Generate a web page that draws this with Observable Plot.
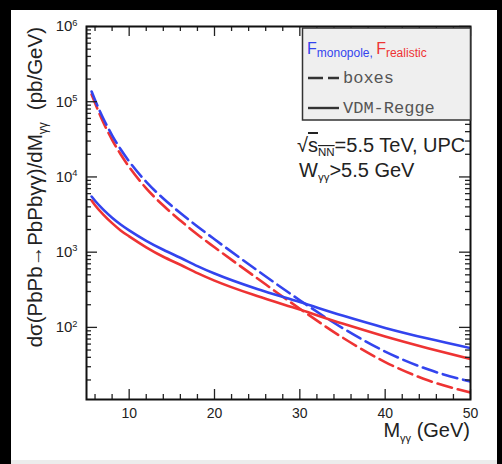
<!DOCTYPE html>
<html><head><meta charset="utf-8">
<script src="https://cdn.jsdelivr.net/npm/d3@7"></script>
<script src="https://cdn.jsdelivr.net/npm/@observablehq/plot@0.6"></script>
<style>
html,body{margin:0;padding:0;background:#000;width:502px;height:464px;overflow:hidden;}
#panel{position:absolute;left:11px;top:10px;width:486px;height:450px;background:#fff;}
#strip{position:absolute;left:11px;top:460px;width:486px;height:4px;background:#ececec;}
#chart{position:absolute;left:0;top:0;}
</style></head><body>
<div id="panel"></div><div id="strip"></div><div id="chart"></div>
<script>
// M_gamma-gamma (GeV)
const mass = [5.6, 6, 7, 8, 9, 10, 12, 14, 16, 18, 20, 25, 30, 35, 40, 45, 50];
// dsigma/dM (pb/GeV)
const boxesMonopole  = [136600, 105340, 58880, 35810, 23320, 16075, 8605, 5161, 3311, 2197, 1484, 574.5, 229.3, 98.0, 47.7, 27.7, 19.05];
const boxesRealistic = [124650, 96100, 52100, 31190, 20010, 13585, 7054, 4166, 2632, 1719, 1162, 449.7, 176.7, 73.3, 34.6, 19.8, 13.6];
const vdmMonopole    = [5488, 4826, 3652, 2876, 2336, 1950, 1418, 1076, 842.4, 653.4, 519.4, 323.1, 217.0, 143.5, 98.5, 71.0, 53.0];
const vdmRealistic   = [4856, 4205, 3133, 2430, 1944, 1622, 1162, 868.6, 679.8, 527.4, 419.1, 260.8, 172.5, 112.3, 75.9, 53.0, 37.9];

const xMajorTicks = [10, 20, 30, 40, 50];
const xMinorTicks = [6, 8, 12, 14, 16, 18, 22, 24, 26, 28, 32, 34, 36, 38, 42, 44, 46, 48];
const yMajorTicks = [1e2, 1e3, 1e4, 1e5, 1e6];
const yMinorTicks = [10, 100, 1e3, 1e4, 1e5].flatMap(d => [2,3,4,5,6,7,8,9].map(k => k * d)).filter(v => v > 11);

const blue = "#3344ee", red = "#ee3333";
const W = 502, H = 464, mL = 86, mR = 32, mT = 26, mB = 65;
const pH = H - mT - mB, pW = W - mL - mR;

const table = (vals) => mass.map((m, i) => ({m, v: vals[i]}));

const tickStyle = {stroke: "#222", strokeWidth: 1.3};
const lineOpts = {x: "m", y: "v", strokeWidth: 2.6, curve: "monotone-x", clip: true};
const plot = Plot.plot({
  width: W, height: H, marginLeft: mL, marginRight: mR, marginTop: mT, marginBottom: mB,
  style: {background: "transparent", fontFamily: "'Liberation Sans', Arial, sans-serif", color: "#222"},
  x: {domain: [5, 50]},
  y: {type: "log", domain: [11, 1e6]},
  marks: [
    Plot.line(table(boxesRealistic), {...lineOpts, stroke: red, strokeDasharray: "15 6"}),
    Plot.line(table(boxesMonopole), {...lineOpts, stroke: blue, strokeDasharray: "15 6"}),
    Plot.line(table(vdmRealistic), {...lineOpts, stroke: red}),
    Plot.line(table(vdmMonopole), {...lineOpts, stroke: blue}),
    // inward ROOT-style ticks
    Plot.tickX(xMajorTicks, {x: d => d, insetTop: pH - 10, ...tickStyle}),
    Plot.tickX(xMajorTicks, {x: d => d, insetBottom: pH - 10, ...tickStyle}),
    Plot.tickX(xMinorTicks, {x: d => d, insetTop: pH - 5, ...tickStyle}),
    Plot.tickX(xMinorTicks, {x: d => d, insetBottom: pH - 5, ...tickStyle}),
    Plot.tickY(yMajorTicks, {y: d => d, insetRight: pW - 11, ...tickStyle}),
    Plot.tickY(yMajorTicks, {y: d => d, insetLeft: pW - 11, ...tickStyle}),
    Plot.tickY(yMinorTicks, {y: d => d, insetRight: pW - 5, ...tickStyle}),
    Plot.tickY(yMinorTicks, {y: d => d, insetLeft: pW - 5, ...tickStyle}),
    Plot.axisX(xMajorTicks, {tickSize: 0, tickPadding: 9, fontSize: 14, tickFormat: d3.format("d"), label: null}),
    Plot.axisY(yMajorTicks, {tickSize: 0, tickPadding: 9, fontSize: 15, tickFormat: d => String(Math.round(Math.log10(d))), label: null}),
    Plot.frame({stroke: "#111", strokeWidth: 2})
  ]
});
document.getElementById("chart").appendChild(plot);

const svg = d3.select(plot);
// superscript exponents on y tick labels
svg.selectAll('g[aria-label="y-axis tick label"] text').each(function() {
  const e = d3.select(this); const exp = e.text();
  e.text("10");
  e.append("tspan").attr("dy", "-0.6em").attr("font-size", "0.62em").text(exp);
});

const font = "'Liberation Sans', Arial, sans-serif";
// y axis title
const yl = svg.append("text").attr("transform", "translate(42,27) rotate(-90)")
  .attr("text-anchor", "end").attr("font-family", font).attr("font-size", 20.5).attr("fill", "#222");
yl.append("tspan").text("dσ(PbPb→PbPbγγ)/dM");
yl.append("tspan").attr("dy", 5).attr("font-size", 12).text("γγ");
yl.append("tspan").attr("dy", -5).attr("dx", 12).text("(pb/GeV)");

// x axis title
const xl = svg.append("text").attr("x", 470).attr("y", 437).attr("text-anchor", "end")
  .attr("font-family", font).attr("font-size", 20).attr("fill", "#222");
xl.append("tspan").text("M");
xl.append("tspan").attr("dy", 5).attr("font-size", 11).text("γγ");
xl.append("tspan").attr("dy", -5).text(" (GeV)");

// legend
const lg = svg.append("g").attr("text-anchor", "start");
lg.append("rect").attr("x", 302.5).attr("y", 28).attr("width", 168).attr("height", 92)
  .attr("fill", "#efefef").attr("stroke", "#333").attr("stroke-width", 1.5);
const t1 = lg.append("text").attr("x", 307).attr("y", 54).attr("text-anchor", "start").attr("font-family", font).attr("font-size", 16);
t1.append("tspan").attr("fill", blue).text("F");
t1.append("tspan").attr("fill", blue).attr("font-size", 12).attr("dy", 3).text("monopole");
t1.append("tspan").attr("fill", blue).attr("font-size", 12).text(", ");
t1.append("tspan").attr("fill", red).attr("dy", -3).text("F");
t1.append("tspan").attr("fill", red).attr("font-size", 12).attr("dy", 3).text("realistic");
lg.append("line").attr("x1", 308).attr("x2", 339).attr("y1", 78).attr("y2", 78)
  .attr("stroke", "#333").attr("stroke-width", 2.4).attr("stroke-dasharray", "15 5");
lg.append("line").attr("x1", 308).attr("x2", 339).attr("y1", 108).attr("y2", 108)
  .attr("stroke", "#333").attr("stroke-width", 2.4);
const mono = "'Liberation Mono', 'DejaVu Sans Mono', monospace";
lg.append("text").attr("x", 343).attr("y", 83).attr("text-anchor", "start").attr("font-family", mono).attr("font-size", 17).attr("fill", "#555").text("boxes");
lg.append("text").attr("x", 343).attr("y", 113).attr("text-anchor", "start").attr("font-family", mono).attr("font-size", 17).attr("fill", "#555").text("VDM-Regge");

// annotation
const a1 = svg.append("text").attr("x", 297).attr("y", 152).attr("text-anchor", "start").attr("font-family", font).attr("font-size", 20).attr("fill", "#222");
a1.append("tspan").text("√");
a1.append("tspan").attr("text-decoration", "overline").text("s");
a1.append("tspan").attr("font-size", 11.5).attr("dy", 4).attr("text-decoration", "overline").text("NN");
a1.append("tspan").attr("dy", -4).text("=5.5 TeV, UPC");
const a2 = svg.append("text").attr("x", 299).attr("y", 177).attr("text-anchor", "start").attr("font-family", font).attr("font-size", 20).attr("fill", "#222");
a2.append("tspan").text("W");
a2.append("tspan").attr("font-size", 11.5).attr("dy", 4).text("γγ");
a2.append("tspan").attr("dy", -4).text(">5.5 GeV");
</script>
</body></html>
